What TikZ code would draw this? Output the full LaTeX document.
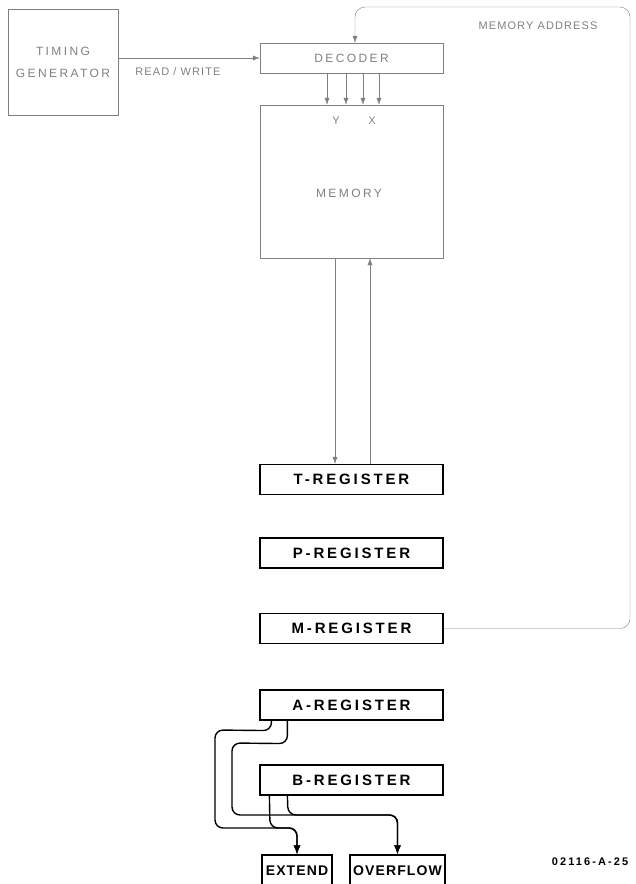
\documentclass[tikz,border=0pt]{standalone}
\usepackage{fontspec}
\usepackage{tikz}
\usetikzlibrary{positioning, calc, arrows.meta}
\newfontfamily\boxfont[LetterSpace=20]{Liberation Sans}
\newfontfamily\thinfont[LetterSpace=10]{Liberation Sans}
\newfontfamily\regfont[LetterSpace=19]{Liberation Sans}
\newfontfamily\flagfont[LetterSpace=8]{Liberation Sans}
\definecolor{faded}{gray}{0.5}

\begin{document}
\begin{tikzpicture}[
  x=1pt, y=-1pt,
  oldbox/.style={rectangle, draw=faded, thin, text=faded, font=\boxfont\fontsize{12}{14}\selectfont},
  regbox/.style={rectangle, draw, line width=1.2pt, minimum width=183pt, minimum height=30pt, font=\regfont\bfseries\fontsize{15}{17}\selectfont},
  flagbox/.style={rectangle, draw, line width=1.2pt, minimum height=32pt, inner sep=1pt, font=\flagfont\bfseries\fontsize{14}{16}\selectfont},
  oldarr/.style={-{Latex[length=7pt,width=5pt]}, draw=faded, thin},
  bus/.style={-{Latex[length=9pt,width=7pt]}, line width=1.4pt, rounded corners=8pt},
  note/.style={text=faded, font=\thinfont\fontsize{11}{13}\selectfont},
]
\useasboundingbox (0,0) rectangle (636,884);

% upper (faded) part
\node[oldbox, minimum width=110pt, minimum height=106pt, align=center] (timing) at (63,62) {TIMING\\[8pt]GENERATOR};
\node[oldbox, minimum width=183pt, minimum height=30pt] (dec) at (351.5,58) {DECODER};
\node[oldbox, minimum width=183pt, minimum height=153pt] (mem) at (351.5,181.5) {};
\node[note, font=\boxfont\fontsize{12}{14}\selectfont] (memlbl) at (349,193) {MEMORY};
\node[note] (ylbl) at (336,121) {Y};
\node[note] (xlbl) at (372,121) {X};
\node[note] (rwlbl) at (178,72) {READ / WRITE};
\node[note] (addrlbl) at (538,26) {MEMORY ADDRESS};

% registers
\node[regbox] (treg) at (351.5,479.5) {T-REGISTER};
\node[regbox] (preg) at (351.5,553) {P-REGISTER};
\node[regbox] (mreg) at (351.5,628.5) {M-REGISTER};
\node[regbox] (areg) at (351.5,705) {A-REGISTER};
\node[regbox] (breg) at (351.5,780) {B-REGISTER};
\node[flagbox, minimum width=70pt] (ext) at (297,871) {EXTEND};
\node[flagbox, minimum width=95pt] (ovf) at (397.5,871) {OVERFLOW};
\node[font=\regfont\bfseries\fontsize{11}{13}\selectfont] (dwg) at (590,862) {02116-A-25};

% faded connectors
\draw[oldarr] (timing.east |- dec.west) -- (dec.west);
\foreach \dx in {-24.5,-5.5,11.5,27.5}
  \draw[oldarr] ([xshift=\dx pt]dec.south) -- ([xshift=\dx pt]mem.north);
\draw[oldarr] ([xshift=-16.5pt]mem.south) -- ([xshift=-16.5pt]treg.north);
\draw[oldarr] ([xshift=18.5pt]treg.north) -- ([xshift=18.5pt]mem.south);
\coordinate (addrturn) at (630,7);
\draw[oldarr, rounded corners=10pt] (mreg.east) -| (addrturn) -| ([xshift=3.5pt]dec.north);

% flag buses
\draw[bus] ([xshift=12pt]areg.south west) -- ++(0,10) -- (215,730) -- (215,828) -- (ext.north |- 0,828) -- (ext.north);
\draw[bus] ([xshift=28pt]areg.south west) -- ++(0,23) -- (232,743) -- (232,815) -- (ovf.north |- 0,815) -- (ovf.north);
\draw[bus] ([xshift=10pt]breg.south west) -- (270,828) -- (ext.north |- 0,828) -- (ext.north);
\draw[bus] ([xshift=28pt]breg.south west) -- (288,815) -- (ovf.north |- 0,815) -- (ovf.north);
\end{tikzpicture}
\end{document}
